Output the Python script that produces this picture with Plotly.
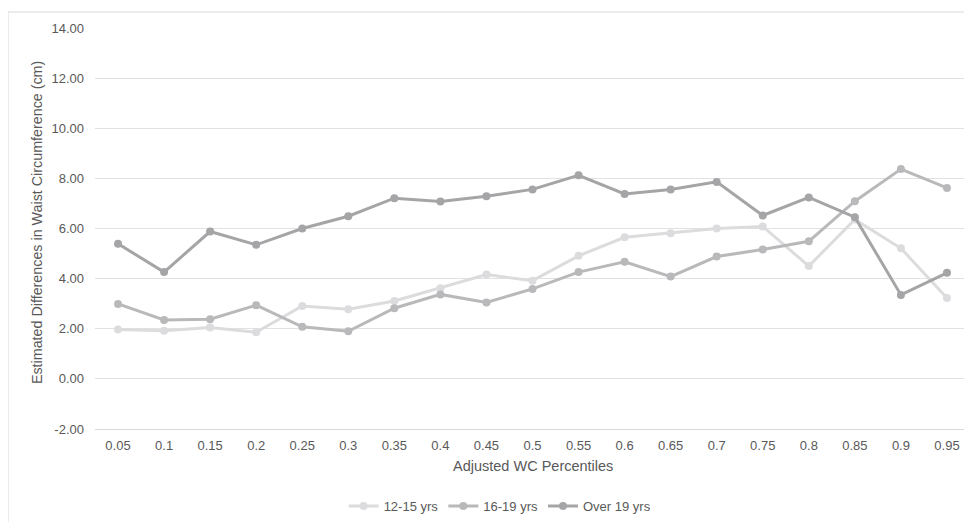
import plotly.graph_objects as go

categories = ["0.05", "0.1", "0.15", "0.2", "0.25", "0.3", "0.35", "0.4", "0.45", "0.5",
              "0.55", "0.6", "0.65", "0.7", "0.75", "0.8", "0.85", "0.9", "0.95"]
y_12_15 = [1.97, 1.92, 2.05, 1.86, 2.91, 2.78, 3.11, 3.62, 4.16, 3.92,
           4.91, 5.65, 5.81, 6.00, 6.08, 4.50, 6.36, 5.21, 3.23]
y_16_19 = [2.99, 2.35, 2.38, 2.94, 2.08, 1.90, 2.82, 3.37, 3.05, 3.59,
           4.26, 4.67, 4.08, 4.88, 5.16, 5.49, 7.09, 8.37, 7.62]
y_over19 = [5.39, 4.26, 5.88, 5.35, 6.00, 6.49, 7.21, 7.08, 7.29, 7.56,
            8.12, 7.38, 7.56, 7.86, 6.52, 7.24, 6.45, 3.35, 4.23]
series_names = ["12-15 yrs", "16-19 yrs", "Over 19 yrs"]
series_colors = ["#dcdcde", "#b9b9bb", "#a5a5a8"]
y_ticks = [-2, 0, 2, 4, 6, 8, 10, 12, 14]

fig = go.Figure()
for name, vals, col in zip(series_names, [y_12_15, y_16_19, y_over19], series_colors):
    fig.add_trace(go.Scatter(
        x=categories, y=vals, name=name, mode="lines+markers",
        line=dict(color=col, width=3),
        marker=dict(color=col, size=8),
    ))

font_family = "Liberation Sans, Arial, sans-serif"
fig.update_layout(
    width=964, height=514,
    margin=dict(l=87, r=2, t=20, b=93, autoexpand=False),
    paper_bgcolor="white", plot_bgcolor="white",
    font=dict(family=font_family, size=13, color="#595959"),
    showlegend=True,
    legend=dict(orientation="h", x=0.463, xanchor="center", y=-0.192, yanchor="middle",
                font=dict(size=13, color="#595959"), traceorder="normal"),
    xaxis=dict(type="category", showgrid=False, zeroline=False, showline=True,
               linecolor="#d9d9d9", linewidth=1, ticks="", automargin=False,
               tickfont=dict(size=13, color="#595959"), range=[-0.5, 18.5],
               ticklabelstandoff=4),
    yaxis=dict(range=[-2, 14], tickvals=y_ticks, automargin=False,
               ticktext=[f"{v:.2f}" for v in y_ticks],
               showgrid=True, gridcolor="#e2e2e2", gridwidth=1, zeroline=False,
               showline=False, tickfont=dict(size=13, color="#595959"), ticklabelstandoff=10),
    annotations=[
        dict(text="Adjusted WC Percentiles", xref="paper", yref="paper", x=0.5, y=-0.0923,
             xanchor="center", yanchor="middle", showarrow=False,
             font=dict(size=14.5, color="#595959")),
        dict(text="Estimated Differences in Waist Circumference (cm)", xref="paper", yref="paper",
             x=-0.0663, y=0.516, xanchor="center", yanchor="middle", textangle=-90,
             showarrow=False, font=dict(size=14.3, color="#595959")),
    ],
    shapes=[
        dict(type="rect", xref="paper", yref="paper", x0=-0.0994, x1=1.2, y0=-0.5, y1=1.0399,
             line=dict(color="#d9d9d9", width=1), fillcolor="rgba(0,0,0,0)", layer="below"),
    ],
)

fig.write_html("out.html")
